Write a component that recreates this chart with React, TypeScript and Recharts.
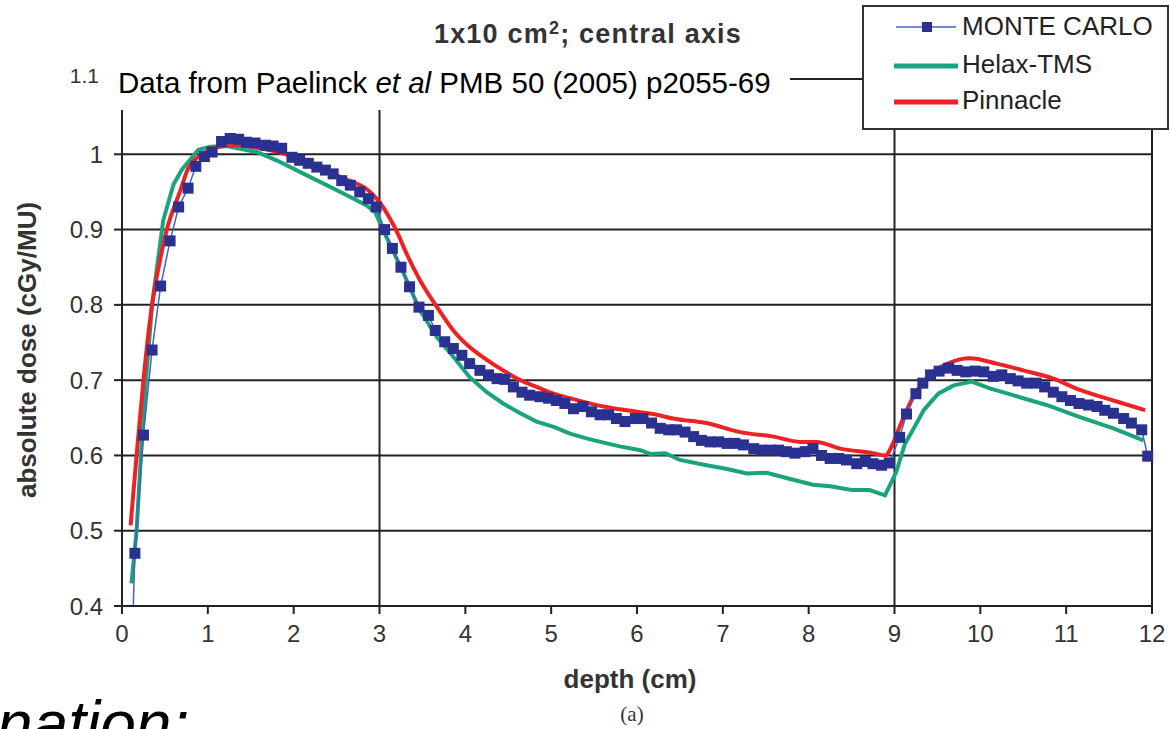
import { LineChart, Line, XAxis, YAxis, CartesianGrid, ReferenceLine } from "recharts";

// depth (cm) / absolute dose (cGy/MU)
const mcDepth = [
  0.13, 0.15, 0.25, 0.35, 0.45, 0.56, 0.66, 0.77, 0.86, 0.96, 1.05, 1.16, 1.26, 1.36, 1.45, 1.55, 1.67, 1.76, 1.86,
  1.98, 2.07, 2.17, 2.27, 2.37, 2.46, 2.56, 2.66, 2.77, 2.87, 2.96, 3.06, 3.15, 3.25, 3.35, 3.46, 3.57, 3.65, 3.76,
  3.86, 3.96, 4.05, 4.17, 4.27, 4.37, 4.46, 4.56, 4.66, 4.75, 4.87, 4.97, 5.06, 5.16, 5.26, 5.37, 5.47, 5.57, 5.67,
  5.76, 5.86, 5.98, 6.07, 6.17, 6.27, 6.37, 6.46, 6.56, 6.66, 6.75, 6.85, 6.95, 7.05, 7.14, 7.24, 7.36, 7.45, 7.55,
  7.65, 7.74, 7.84, 7.96, 8.05, 8.15, 8.25, 8.35, 8.44, 8.56, 8.66, 8.75, 8.85, 8.94, 9.06, 9.14, 9.25, 9.33, 9.42,
  9.52, 9.63, 9.73, 9.83, 9.94, 10.04, 10.15, 10.25, 10.35, 10.44, 10.54, 10.65, 10.75, 10.85, 10.95, 11.05, 11.15,
  11.26, 11.36, 11.45, 11.55, 11.67, 11.76, 11.88, 11.95,
];
const mcDose = [
  0.395, 0.47, 0.627, 0.74, 0.825, 0.885, 0.93, 0.955, 0.984, 0.997, 1.003, 1.017, 1.021, 1.02, 1.016, 1.015, 1.012,
  1.011, 1.008, 0.996, 0.992, 0.988, 0.983, 0.979, 0.974, 0.965, 0.959, 0.95, 0.941, 0.93, 0.9, 0.875, 0.85, 0.824,
  0.797, 0.786, 0.766, 0.751, 0.742, 0.733, 0.722, 0.713, 0.707, 0.702, 0.701, 0.691, 0.684, 0.68, 0.678, 0.676,
  0.673, 0.669, 0.662, 0.665, 0.658, 0.654, 0.654, 0.649, 0.645, 0.649, 0.649, 0.643, 0.636, 0.634, 0.634, 0.631,
  0.625, 0.62, 0.618, 0.618, 0.616, 0.616, 0.614, 0.609, 0.607, 0.607, 0.607, 0.605, 0.603, 0.605, 0.609, 0.6, 0.596,
  0.596, 0.594, 0.589, 0.592, 0.589, 0.587, 0.59, 0.624, 0.655, 0.682, 0.696, 0.707, 0.712, 0.716, 0.713, 0.711,
  0.712, 0.711, 0.705, 0.707, 0.702, 0.699, 0.696, 0.696, 0.691, 0.684, 0.678, 0.673, 0.669, 0.667, 0.665, 0.66,
  0.656, 0.649, 0.643, 0.634, 0.599,
];

const helaxDepth = [
  0.11, 0.17, 0.22, 0.28, 0.35, 0.48, 0.6, 0.7, 0.89, 1.03, 1.22, 1.57, 1.8, 2.19, 2.58, 2.85, 2.95, 3.08, 3.12, 3.28,
  3.47, 3.67, 3.86, 4.05, 4.25, 4.44, 4.64, 4.83, 5.03, 5.22, 5.4, 5.61, 5.8, 6.04, 6.15, 6.33, 6.5, 6.81, 7.05, 7.28,
  7.51, 7.74, 8.05, 8.25, 8.5, 8.71, 8.89, 9.02, 9.12, 9.22, 9.34, 9.51, 9.69, 9.9, 10.11, 10.38, 10.77, 11.16, 11.55,
  11.9,
];
const helaxDose = [
  0.43, 0.5, 0.6, 0.7, 0.8, 0.912, 0.96, 0.98, 1.006, 1.01, 1.011, 1.003, 0.992, 0.97, 0.948, 0.932, 0.923, 0.89,
  0.881, 0.842, 0.793, 0.757, 0.731, 0.704, 0.684, 0.669, 0.656, 0.645, 0.638, 0.629, 0.623, 0.617, 0.612, 0.607,
  0.602, 0.603, 0.594, 0.587, 0.582, 0.576, 0.577, 0.57, 0.561, 0.559, 0.554, 0.554, 0.547, 0.578, 0.615, 0.635, 0.66,
  0.682, 0.693, 0.698, 0.689, 0.68, 0.667, 0.651, 0.636, 0.62,
];

const pinnDepth = [
  0.1, 0.17, 0.25, 0.35, 0.42, 0.52, 0.68, 0.77, 0.95, 1.14, 1.34, 1.61, 1.88, 2.19, 2.58, 2.89, 3.01, 3.12, 3.22, 3.28,
  3.47, 3.67, 3.86, 4.05, 4.25, 4.44, 4.64, 4.83, 5.03, 5.22, 5.61, 6.0, 6.23, 6.42, 6.81, 7.2, 7.59, 7.9, 8.09, 8.37,
  8.75, 8.89, 8.99, 9.06, 9.22, 9.41, 9.64, 9.88, 10.19, 10.5, 10.85, 11.16, 11.55, 11.92,
];
const pinnDose = [
  0.507, 0.6, 0.7, 0.8, 0.846, 0.899, 0.952, 0.981, 1.001, 1.01, 1.012, 1.008, 1.001, 0.988, 0.968, 0.95, 0.935, 0.915,
  0.893, 0.877, 0.833, 0.797, 0.766, 0.744, 0.727, 0.713, 0.7, 0.691, 0.682, 0.676, 0.665, 0.658, 0.654, 0.649, 0.643,
  0.631, 0.625, 0.618, 0.618, 0.609, 0.603, 0.6, 0.618, 0.638, 0.678, 0.707, 0.723, 0.729, 0.722, 0.713, 0.702, 0.687,
  0.673, 0.66,
];

const xTicks = [0, 1, 2, 3, 4, 5, 6, 7, 8, 9, 10, 11, 12];
const yTicks = [0.4, 0.5, 0.6, 0.7, 0.8, 0.9, 1.0, 1.1];
const xGridLines = [3, 9, 12];

const FONT = '"Liberation Sans", Arial, Helvetica, sans-serif';
const INK = "#222";
const MC_LINE = "#4262c4";
const MC_MARK = "#2b3190";
const HELAX = "#1ba37b";
const PINNACLE = "#ec2227";

const toRows = (depth: number[], dose: number[]) => depth.map((d, i) => ({ depth: d, dose: dose[i] }));

const mcRows = toRows(mcDepth, mcDose);
const helaxRows = toRows(helaxDepth, helaxDose);
const pinnRows = toRows(pinnDepth, pinnDose);

function SquareDot(props: any) {
  const { cx, cy, payload, index } = props;
  if (payload.dose < 0.4 || cx == null || cy == null) return <g key={index} />;
  return <rect key={index} x={cx - 5.5} y={cy - 5.5} width={11} height={11} fill={MC_MARK} />;
}

function YTick({ x, y, payload }: any) {
  const v = payload.value as number;
  const top = v > 1.05;
  return (
    <text x={top ? x - 4 : x} y={top ? y - 3 : y} dy="0.355em" textAnchor="end" fontSize={top ? 21 : 24} fill="#333" fontFamily={FONT}>
      {String(Number(v.toFixed(1)))}
    </text>
  );
}

export default function App() {
  return (
    <div
      style={{
        position: "absolute",
        left: 0,
        top: 0,
        width: 1170,
        height: 729,
        overflow: "hidden",
        background: "#fff",
        fontFamily: FONT,
      }}
    >
      <LineChart width={1170} height={729} margin={{ top: 79, right: 18, bottom: 93, left: 0 }}>
        <CartesianGrid horizontal vertical={false} stroke={INK} strokeWidth={2} />
        <XAxis
          type="number"
          dataKey="depth"
          domain={[0, 12]}
          ticks={xTicks}
          height={30}
          tickSize={8}
          tickMargin={11}
          axisLine={{ stroke: INK, strokeWidth: 2 }}
          tickLine={{ stroke: INK, strokeWidth: 2 }}
          tick={{ fontSize: 24, fill: "#333", fontFamily: FONT }}
        />
        <YAxis
          type="number"
          domain={[0.4, 1.1]}
          ticks={yTicks}
          allowDataOverflow
          width={122}
          tickSize={8}
          tickMargin={11}
          axisLine={{ stroke: INK, strokeWidth: 2 }}
          tickLine={{ stroke: INK, strokeWidth: 2 }}
          tick={<YTick />}
        />
        {xGridLines.map((x) => (
          <ReferenceLine key={x} x={x} stroke={INK} strokeWidth={2} />
        ))}
        <Line
          data={helaxRows}
          dataKey="dose"
          type="linear"
          stroke={HELAX}
          strokeWidth={4}
          dot={false}
          isAnimationActive={false}
        />
        <Line
          data={pinnRows}
          dataKey="dose"
          type="monotone"
          stroke={PINNACLE}
          strokeWidth={4}
          dot={false}
          isAnimationActive={false}
        />
        <Line
          data={mcRows}
          dataKey="dose"
          type="linear"
          stroke={MC_LINE}
          strokeWidth={1.5}
          dot={SquareDot}
          isAnimationActive={false}
        />
      </LineChart>

      <svg
        width={1170}
        height={729}
        style={{ position: "absolute", left: 0, top: 0, pointerEvents: "none" }}
        fontFamily={FONT}
      >
        <text x={588} y={43} textAnchor="middle" fontSize={27} fontWeight="bold" fill="#333" letterSpacing={1.2}>
          1x10 cm
          <tspan fontSize={18} dy={-9}>
            2
          </tspan>
          <tspan dy={9}>; central axis</tspan>
        </text>

        <rect x={112} y={54} width={678} height={56} fill="#fff" />
        <text x={118} y={93} fontSize={29.5} fill="#000">
          Data from Paelinck <tspan fontStyle="italic">et al</tspan> PMB 50 (2005) p2055-69
        </text>

        <rect x={863} y={6} width={305} height={123} fill="#fff" stroke="#333" strokeWidth={2} />
        <line x1={896} x2={956} y1={27} y2={27} stroke={MC_LINE} strokeWidth={1.5} />
        <rect x={922} y={22} width={10} height={10} fill={MC_MARK} />
        <text x={962} y={35} fontSize={26} fill={INK}>
          MONTE CARLO
        </text>
        <line x1={894} x2={958} y1={66} y2={66} stroke={HELAX} strokeWidth={5} />
        <text x={962} y={73} fontSize={26} fill={INK}>
          Helax-TMS
        </text>
        <line x1={894} x2={958} y1={102} y2={102} stroke={PINNACLE} strokeWidth={5} />
        <text x={962} y={109} fontSize={26} fill={INK}>
          Pinnacle
        </text>

        <text
          x={27}
          y={350}
          dy="0.35em"
          transform="rotate(-90, 27, 350)"
          textAnchor="middle"
          fontSize={26}
          fontWeight="bold"
          fill="#333"
        >
          absolute dose (cGy/MU)
        </text>
        <text x={630} y={688} textAnchor="middle" fontSize={26} fontWeight="bold" fill="#333">
          depth (cm)
        </text>
        <text x={632} y={721} textAnchor="middle" fontSize={21} fill="#333" fontFamily='"Liberation Serif", "DejaVu Serif", serif'>
          (a)
        </text>

        <text x={-3} y={746} fontSize={64} fontStyle="italic" fill="#000">
          nation:
        </text>
      </svg>
    </div>
  );
}
